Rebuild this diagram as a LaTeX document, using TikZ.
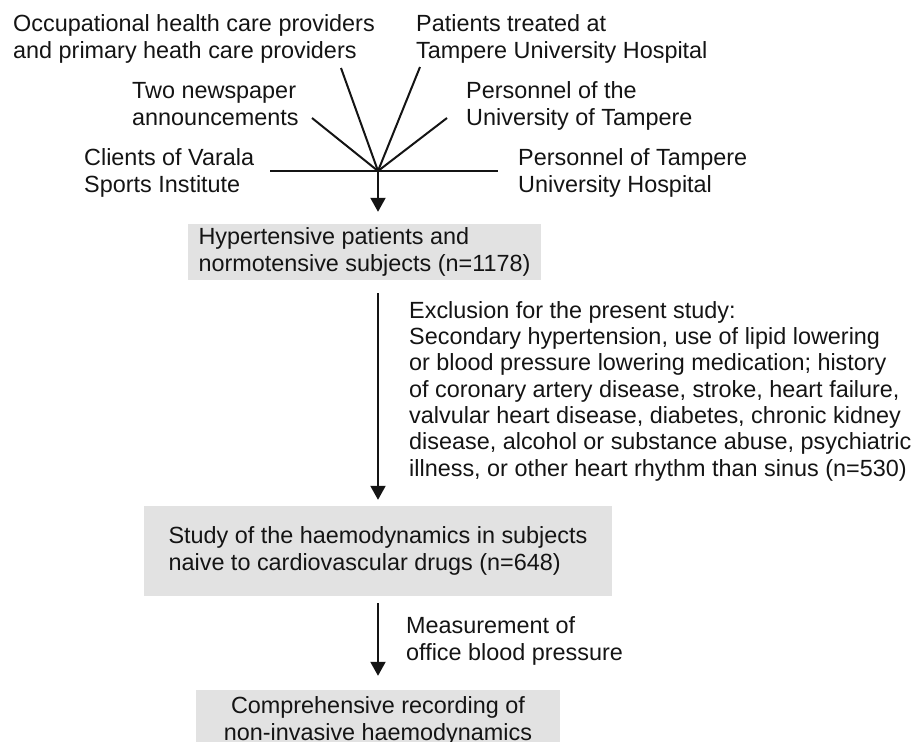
\documentclass[tikz,border=0pt]{standalone}
\usepackage{fontspec}
\setmainfont{Liberation Sans}
\usetikzlibrary{arrows.meta}
\definecolor{InkBlack}{RGB}{20,20,20}
\definecolor{BoxGray}{RGB}{226,226,226}

\begin{document}
\begin{tikzpicture}[x = 1pt, y = -1pt, font = \fontsize{23.4}{26.3}\selectfont]%
    %
    \tikzstyle{arrow} = [-{Triangle[length = 14pt, width = 15pt]}, draw = InkBlack, line width = 2pt]%
    \tikzstyle{feed} = [draw = InkBlack, line width = 2pt]%
    \tikzstyle{source} = [anchor = base west, align = left, inner sep = 0pt, text = InkBlack]%
    \tikzstyle{stage} = [rectangle, fill = BoxGray, text = InkBlack, inner sep = 0pt]%
    %
    \useasboundingbox (0,0) rectangle (922,742);%
    %
    % recruitment sources (placed at the baseline of their last line)
    \coordinate (hub) at (378,171);%
    \node [source] (occupational) at (13,58) {Occupational health care providers\\and primary heath care providers};%
    \node [source] (patients) at (416,58) {Patients treated at\\Tampere University Hospital};%
    \node [source] (newspaper) at (132,125) {Two newspaper\\announcements};%
    \node [source] (university) at (466,125) {Personnel of the\\University of Tampere};%
    \node [source] (varala) at (84,192) {Clients of Varala\\Sports Institute};%
    \node [source] (hospital) at (518,192) {Personnel of Tampere\\University Hospital};%
    %
    \coordinate (occupational-end) at (341,68);%
    \coordinate (patients-end) at (420,67);%
    \coordinate (newspaper-end) at (312,118);%
    \coordinate (university-end) at (447,118);%
    \coordinate (varala-end) at (270,171);%
    \coordinate (hospital-end) at (498,171);%
    \path [feed] (varala-end) -- (hospital-end);%
    \path [feed] (occupational-end) -- (hub);%
    \path [feed] (patients-end) -- (hub);%
    \path [feed] (newspaper-end) -- (hub);%
    \path [feed] (university-end) -- (hub);%
    %
    % study stages
    \node [stage, minimum width = 353pt, minimum height = 56pt, align = left] (pool) at (364.5,252) {Hypertensive patients and\\normotensive subjects (n=1178)};%
    \node [stage, minimum width = 468pt, minimum height = 90pt, align = left] (naive) at (378,551) {Study of the haemodynamics in subjects\\naive to cardiovascular drugs (n=648)};%
    \node [stage, minimum width = 364pt, minimum height = 62pt, align = center] (recording) at (378,721) {Comprehensive recording of\\non-invasive haemodynamics};%
    %
    \node [source] (exclusion) at (409,476) {Exclusion for the present study:\\Secondary hypertension, use of lipid lowering\\or blood pressure lowering medication; history\\of coronary artery disease, stroke, heart failure,\\valvular heart disease, diabetes, chronic kidney\\disease, alcohol or substance abuse, psychiatric\\illness, or other heart rhythm than sinus (n=530)};%
    \node [source] (measurement) at (406,660) {Measurement of\\office blood pressure};%
    %
    \path [arrow, shorten >= 12pt] (hub) -- (hub |- pool.north);%
    \path [arrow, shorten <= 13pt, shorten >= 6pt] (hub |- pool.south) -- (hub |- naive.north);%
    \path [arrow, shorten <= 7pt, shorten >= 14pt] (hub |- naive.south) -- (hub |- recording.north);%
    %
\end{tikzpicture}
\end{document}
